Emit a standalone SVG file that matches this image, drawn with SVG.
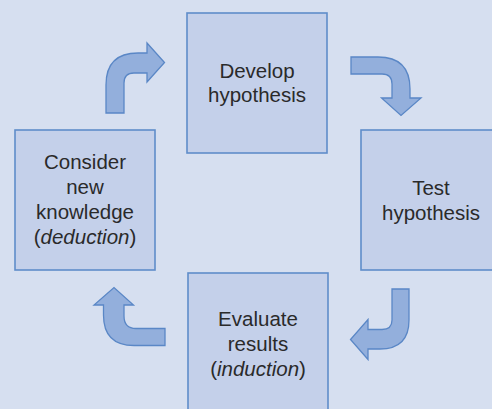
<svg xmlns="http://www.w3.org/2000/svg" width="492" height="409" viewBox="0 0 492 409">
<style>
.box{fill:#c4d0ea;stroke:#5f8dca;stroke-width:1.6}
.arr{fill:#93afdc;stroke:#5a87c6;stroke-width:1.3;stroke-linejoin:miter}
text{font-family:"Liberation Sans",Arial,sans-serif;font-size:20.5px;fill:#2a2a2a;text-anchor:middle}
.it{font-style:italic}
</style>
<rect width="492" height="409" fill="#d6dff0"/>
<g id="develop">
<rect class="box" x="187" y="13" width="140" height="140"/>
<text x="257" y="78">Develop</text>
<text x="257" y="102">hypothesis</text>
</g>
<g id="test">
<rect class="box" x="361" y="130" width="140" height="140"/>
<text x="431" y="195">Test</text>
<text x="431" y="220">hypothesis</text>
</g>
<g id="evaluate">
<rect class="box" x="188" y="273" width="140" height="140"/>
<text x="258" y="326">Evaluate</text>
<text x="258" y="351">results</text>
<text x="258" y="376">(<tspan class="it">induction</tspan>)</text>
</g>
<g id="consider">
<rect class="box" x="15" y="130" width="140" height="140"/>
<text x="85" y="169">Consider</text>
<text x="85" y="194">new</text>
<text x="85" y="219">knowledge</text>
<text x="85" y="244">(<tspan class="it">deduction</tspan>)</text>
</g>
<g id="connectors">
<path class="arr" d="M106,113 V85 Q106,53 138,53 H147 V43 L164.5,62.5 L147,82 V73 H134 Q124,73 124,83 V113 Z"/>
<path class="arr" d="M351,57 H378 Q410,57 410,89 V98 H421 L401,115.5 L381.5,98 H392 V84 Q392,74 382,74 H351 Z"/>
<path class="arr" d="M392,289 H409 V320 Q409,349 380,349 H368 V359.5 L350.5,339.5 L368,319.5 V329.5 H382 Q392,329.5 392,320 Z"/>
<path class="arr" d="M165,328.5 V345.5 H134 Q103.5,345.5 103.5,315 V305 H94 L114,287.5 L133.5,305 H124 V316 Q124,328.5 136,328.5 Z"/>
</g>
</svg>
